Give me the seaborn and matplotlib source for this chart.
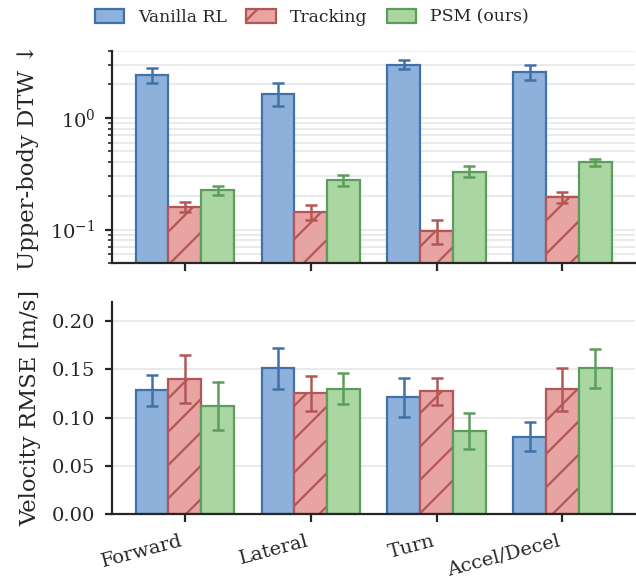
import numpy as np
import pandas as pd
import matplotlib
matplotlib.use("Agg")
import matplotlib.pyplot as plt
import seaborn as sns
from matplotlib.patches import Patch
from matplotlib.ticker import NullFormatter

# Data
tasks = ["Forward", "Lateral", "Turn", "Accel/Decel"]
methods = ["Vanilla RL", "Tracking", "PSM (ours)"]

dtw_vanilla = [2.40, 1.65, 3.00, 2.55]
dtw_vanilla_err = [0.37, 0.38, 0.29, 0.39]
dtw_tracking = [0.160, 0.145, 0.098, 0.195]
dtw_tracking_err = [0.015, 0.022, 0.024, 0.022]
dtw_psm = [0.225, 0.277, 0.330, 0.400]
dtw_psm_err = [0.022, 0.030, 0.037, 0.030]

vel_vanilla = [0.128, 0.151, 0.121, 0.080]
vel_vanilla_err = [0.016, 0.021, 0.020, 0.015]
vel_tracking = [0.140, 0.125, 0.127, 0.129]
vel_tracking_err = [0.025, 0.018, 0.014, 0.022]
vel_psm = [0.112, 0.130, 0.086, 0.151]
vel_psm_err = [0.025, 0.016, 0.019, 0.020]

fills = ["#8db1db", "#e8a3a3", "#a9d6a1"]
edges = ["#4071a8", "#b25656", "#5d9c5d"]
hatches = ["", "//", ""]

# long-form table for seaborn
rows = []
dtw = [dtw_vanilla, dtw_tracking, dtw_psm]
dtw_err = [dtw_vanilla_err, dtw_tracking_err, dtw_psm_err]
vel = [vel_vanilla, vel_tracking, vel_psm]
vel_err = [vel_vanilla_err, vel_tracking_err, vel_psm_err]
for m, method in enumerate(methods):
    for t, task in enumerate(tasks):
        rows.append({"task": task, "method": method,
                     "dtw": dtw[m][t], "dtw_err": dtw_err[m][t],
                     "vel": vel[m][t], "vel_err": vel_err[m][t]})
df = pd.DataFrame(rows)

sns.set_style("ticks")
plt.rcParams["font.family"] = ["DejaVu Serif", "DejaVu Sans"]
plt.rcParams["hatch.linewidth"] = 0.8
plt.rcParams["axes.linewidth"] = 0.8

fig, axes = plt.subplots(2, 1, figsize=(3.18, 2.905), dpi=200, sharex=True)
fig.subplots_adjust(left=0.176, right=0.999, top=0.913, bottom=0.115, hspace=0.18)


def draw_panel(ax, col, err_col):
    sns.barplot(data=df, x="task", y=col, hue="method", order=tasks,
                hue_order=methods, palette=fills, saturation=1, width=0.78,
                errorbar=None, legend=False, ax=ax)
    bar_groups = list(ax.containers)
    for i, cont in enumerate(bar_groups):
        sub = df[df["method"] == methods[i]].set_index("task").loc[tasks]
        xs = []
        for patch in cont.patches:
            patch.set_hatch(hatches[i])
            patch.set_edgecolor(edges[i])
            patch.set_linewidth(0.8)
            xs.append(patch.get_x() + patch.get_width() / 2)
        ax.errorbar(xs, sub[col].values, yerr=sub[err_col].values, fmt="none",
                    ecolor=edges[i], elinewidth=0.9, capsize=2.2, capthick=0.9,
                    zorder=5)
    ax.set_axisbelow(True)
    ax.set_xlabel("")
    ax.tick_params(axis="both", labelsize=7, width=0.8)
    ax.tick_params(axis="x", length=3)
    ax.tick_params(axis="y", which="major", length=2.4)
    ax.tick_params(axis="y", which="minor", width=0.6, length=1.6)


ax1, ax2 = axes
draw_panel(ax1, "dtw", "dtw_err")
ax1.set_yscale("log")
ax1.set_ylim(0.05, 4)
ax1.yaxis.set_minor_formatter(NullFormatter())
ax1.yaxis.grid(True, which="both", color="#e6e6e6", linewidth=0.6)
ax1.set_ylabel("Upper-body DTW ↓", fontsize=8.2)

draw_panel(ax2, "vel", "vel_err")
ax2.set_ylim(0, 0.22)
ax2.set_yticks([0, 0.05, 0.10, 0.15, 0.20])
ax2.yaxis.grid(True, color="#e6e6e6", linewidth=0.6)
ax2.set_ylabel("Velocity RMSE [m/s]", fontsize=8.2)
plt.setp(ax2.get_xticklabels(), rotation=15, ha="right")

sns.despine(fig=fig)

handles = [Patch(facecolor=fills[i], edgecolor=edges[i], hatch=hatches[i],
                 linewidth=0.8, label=methods[i]) for i in range(3)]
fig.legend(handles=handles, loc="upper center", bbox_to_anchor=(0.49, 1.0),
           ncol=3, frameon=False, fontsize=6.2, handlelength=1.7,
           handleheight=0.85, columnspacing=1.15, borderaxespad=0.1)

fig.savefig("out.png", dpi=200)
